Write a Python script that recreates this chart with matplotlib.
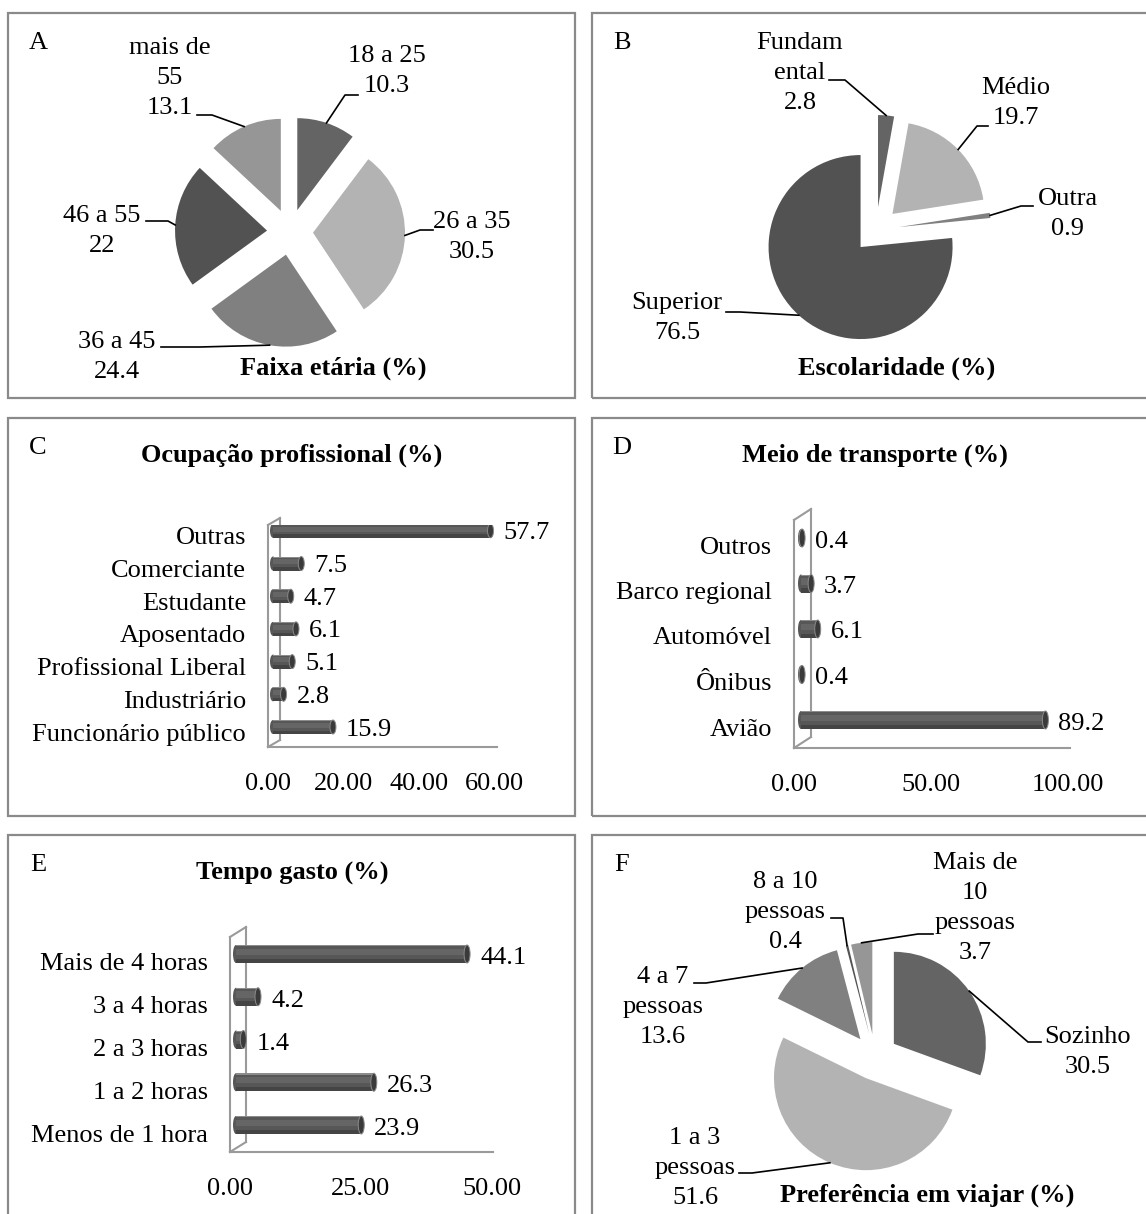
import matplotlib
matplotlib.use("Agg")
import matplotlib.pyplot as plt
import matplotlib.transforms as mtransforms
from matplotlib.patches import Rectangle, Ellipse
from matplotlib.lines import Line2D
import numpy as np

W, H, DPI = 1146, 1214, 100
FS = 19
LSP = 1.48
plt.rcParams["font.family"] = ["Liberation Serif", "DejaVu Serif"]

# A - age groups
AGE_LABELS = ["18 a 25", "26 a 35", "36 a 45", "46 a 55", "mais de\n55"]
AGE_VALUES = [10.3, 30.5, 24.4, 22, 13.1]

# B - schooling
EDU_LABELS = ["Fundam\nental", "Médio", "Outra", "Superior"]
EDU_VALUES = [2.8, 19.7, 0.9, 76.5]

# C - occupation (bottom to top)
JOB_LABELS = ["Funcionário público", "Industriário", "Profissional Liberal",
              "Aposentado", "Estudante", "Comerciante", "Outras"]
JOB_VALUES = [15.9, 2.8, 5.1, 6.1, 4.7, 7.5, 57.7]
JOB_TICKS = [0, 20, 40, 60]

# D - transport (bottom to top)
TRANSPORT_LABELS = ["Avião", "Ônibus", "Automóvel", "Barco regional", "Outros"]
TRANSPORT_VALUES = [89.2, 0.4, 6.1, 3.7, 0.4]
TRANSPORT_TICKS = [0, 50, 100]

# E - travel time (bottom to top)
TIME_LABELS = ["Menos de 1 hora", "1 a 2 horas", "2 a 3 horas",
               "3 a 4 horas", "Mais de 4 horas"]
TIME_VALUES = [23.9, 26.3, 1.4, 4.2, 44.1]
TIME_TICKS = [0, 25, 50]

# F - travel company
COMPANY_LABELS = ["Sozinho", "1 a 3\npessoas", "4 a 7\npessoas",
                  "8 a 10\npessoas", "Mais de\n10\npessoas"]
COMPANY_VALUES = [30.5, 51.6, 13.6, 0.4, 3.7]

PIE_GRAYS = ["#646464", "#b3b3b3", "#808080", "#525252", "#969696"]

fig = plt.figure(figsize=(W / DPI, H / DPI), dpi=DPI)


def fx(x):
    return x / W


def fy(y):
    return 1 - y / H


def pt(px):
    return px * 72 / DPI


def panel_box(x0, y0, x1, y1, letter, title, title_xy):
    fig.add_artist(Rectangle((fx(x0), fy(y1)), fx(x1) - fx(x0), fy(y0) - fy(y1),
                             transform=fig.transFigure, fill=False,
                             edgecolor="#8a8a8a", linewidth=1.6))
    fig.text(fx(x0 + 30), fy(y0 + 30), letter, fontsize=FS, ha="center", va="center")
    fig.text(fx(title_xy[0]), fy(title_xy[1]), title, fontsize=FS,
             fontweight="bold", ha="center", va="center")


def draw_pie(box, center, values, labels, label_xy, leaders, R=92, explode=0.25):
    x0, y0, x1, y1 = box
    cx, cy = center
    ax = fig.add_axes([fx(x0), fy(y1), fx(x1) - fx(x0), fy(y0) - fy(y1)])
    wedges, _ = ax.pie(values, colors=PIE_GRAYS[:len(values)], startangle=90,
                       counterclock=False, explode=[explode] * len(values),
                       radius=1, wedgeprops=dict(linewidth=0))
    ax.set_aspect("auto")
    ax.set_xlim((x0 - cx) / R, (x1 - cx) / R)
    ax.set_ylim((cy - y1) / R, (cy - y0) / R)
    ax.axis("off")

    def d(p):
        return ((p[0] - cx) / R, (cy - p[1]) / R)

    for w, v, lab, lxy, (tp, ep) in zip(wedges, values, labels, label_xy, leaders):
        mid = np.deg2rad((w.theta1 + w.theta2) / 2)
        arc = (w.center[0] + np.cos(mid), w.center[1] + np.sin(mid))
        t, e = d(tp), d(ep)
        ax.plot([t[0], e[0], arc[0]], [t[1], e[1], arc[1]], color="black",
                lw=1.2, clip_on=False)
        ax.text(*d(lxy), f"{lab}\n{v:g}", fontsize=FS, ha="center", va="center",
                linespacing=LSP)
    return ax


def draw_bars(wall_x, floor_y, top_y, end_x, depth, cat0_y, step, scale, bar_h,
              cats, values, ticks, shift):
    ax = fig.add_axes([fx(wall_x), fy(floor_y), fx(end_x) - fx(wall_x),
                       fy(top_y) - fy(floor_y)])
    for s in ax.spines.values():
        s.set_visible(False)
    ax.set_facecolor("none")

    # 3D wall and floor behind the cylinders
    dx, dy = depth
    segs = [[(wall_x, floor_y), (wall_x, top_y)],
            [(wall_x + dx, floor_y - dy), (wall_x + dx, top_y - dy)],
            [(wall_x, top_y), (wall_x + dx, top_y - dy)],
            [(wall_x, floor_y), (wall_x + dx, floor_y - dy)],
            [(wall_x, floor_y), (end_x, floor_y)]]
    for seg in segs:
        ax.add_line(Line2D([fx(p[0]) for p in seg], [fy(p[1]) for p in seg],
                           transform=fig.transFigure, color="#9a9a9a", lw=1.5,
                           clip_on=False, zorder=0.5))

    sx, sy = shift
    bar_tr = ax.transData + mtransforms.ScaledTranslation(sx / DPI, sy / DPI,
                                                          fig.dpi_scale_trans)
    ys = np.arange(len(values))
    h = bar_h / step
    # cylinder shading: base body, soft light band, dark underside, thin top rim
    layers = [(0.0, 1.0, "#575757"), (0.12, 0.36, "#656565"),
              (-0.38, 0.24, "#444444"), (0.46, 0.08, "#8c8c8c")]
    for off, frac, c in layers:
        ax.barh(ys + off * h, values, height=h * frac, left=0, color=c,
                linewidth=0, transform=bar_tr, zorder=2)
    cap_w = 6 / scale
    for y, v in zip(ys, values):
        ax.add_patch(Ellipse((0, y), cap_w, h, facecolor="#575757", lw=0,
                             transform=bar_tr, zorder=1.9))
        ax.add_patch(Ellipse((v, y), cap_w, h, facecolor="#3a3a3a",
                             edgecolor="#8a8a8a", lw=0.7, transform=bar_tr, zorder=3))
        ax.annotate(f"{v:g}", xy=(v, y), xytext=(pt(sx + 13), pt(sy / 2)),
                    textcoords="offset points", ha="left", va="center",
                    fontsize=FS, annotation_clip=False)

    ax.set_xlim(0, (end_x - wall_x) / scale)
    ax.set_ylim((cat0_y - floor_y) / step, (cat0_y - top_y) / step)
    ax.set_yticks(ys, labels=cats)
    ax.set_xticks(ticks, labels=[f"{t:.2f}" for t in ticks])
    ax.tick_params(axis="y", length=0, pad=pt(22), labelsize=FS)
    ax.tick_params(axis="x", length=0, pad=pt(26), labelsize=FS)
    return ax


# panel frames, letters and titles
panel_box(8, 13, 575, 398, "A", "Faixa etária (%)", (333, 368))
panel_box(592, 13, 1160, 398, "B", "Escolaridade (%)", (897, 368))
panel_box(8, 418, 575, 816, "C", "Ocupação profissional (%)", (292, 455))
panel_box(592, 418, 1160, 816, "D", "Meio de transporte (%)", (875, 455))
panel_box(8, 835, 575, 1240, "E", "Tempo gasto (%)", (292, 873))
panel_box(592, 835, 1160, 1240, "F", "Preferência em viajar (%)", (927, 1195))

draw_pie((8, 13, 575, 398), (290, 232), AGE_VALUES, AGE_LABELS,
         [(387, 71), (472, 237), (117, 357), (102, 231), (170, 78)],
         [((358, 95), (345, 95)), ((433, 230), (420, 230)),
          ((161, 347), (200, 347)), ((146, 221), (168, 221)),
          ((197, 115), (212, 115))])

draw_pie((592, 13, 1146, 398), (876, 230), EDU_VALUES, EDU_LABELS,
         [(800, 73), (1016, 103), (1068, 214), (677, 318)],
         [((829, 80), (845, 80)), ((988, 126), (977, 126)),
          ((1033, 206), (1021, 206)), ((726, 312), (740, 312))])

draw_pie((592, 835, 1146, 1214), (875, 1057), COMPANY_VALUES, COMPANY_LABELS,
         [(1088, 1052), (695, 1168), (663, 1007), (785, 912), (975, 908)],
         [((1041, 1042), (1028, 1042)), ((739, 1173), (752, 1173)),
          ((694, 983), (706, 983)), ((831, 918), (843, 918)),
          ((933, 934), (918, 934))])

draw_bars(268, 747, 525, 497, (12, 7), 732, 32.7, 3.77, 14,
          JOB_LABELS, JOB_VALUES, JOB_TICKS, (5, 5))
draw_bars(794, 748, 520, 1070, (17, 11), 727, 45.5, 2.74, 18,
          TRANSPORT_LABELS, TRANSPORT_VALUES, TRANSPORT_TICKS, (7, 7))
draw_bars(230, 1152, 937, 493, (16, 10), 1133, 42.75, 5.24, 18,
          TIME_LABELS, TIME_VALUES, TIME_TICKS, (6, 8))

fig.savefig("out.png", dpi=DPI)
